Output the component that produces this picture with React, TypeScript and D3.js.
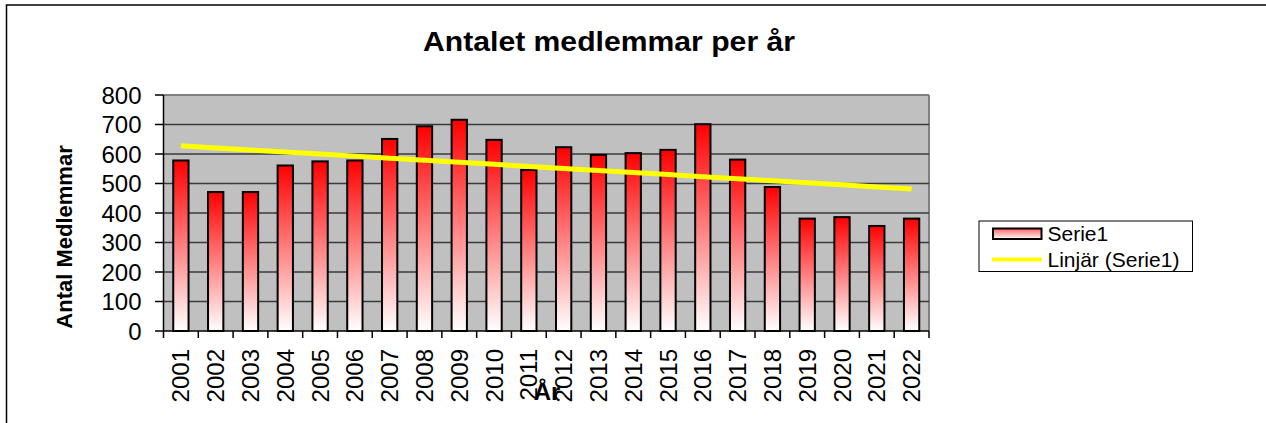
import * as d3 from "d3"

const YEARS = ["2001", "2002", "2003", "2004", "2005", "2006", "2007", "2008", "2009", "2010", "2011",
  "2012", "2013", "2014", "2015", "2016", "2017", "2018", "2019", "2020", "2021", "2022"]
const MEMBERS = [578, 471, 471, 561, 575, 578, 651, 694, 716, 648, 546, 623, 597, 603, 614, 701, 581, 488, 381, 386, 356, 381]
const Y_TICKS = [0, 100, 200, 300, 400, 500, 600, 700, 800]

const W = 1266
const H = 423
const PLOT = { left: 163.5, right: 929, top: 95, bottom: 331 }
const FONT = "'Liberation Sans', Arial, sans-serif"

export default function App() {
  const x = d3.scaleBand<string>().domain(YEARS).range([PLOT.left, PLOT.right]).paddingInner(0.56).paddingOuter(0.28)
  const band = d3.scaleBand<string>().domain(YEARS).range([PLOT.left, PLOT.right])
  const y = d3.scaleLinear().domain([0, 800]).range([PLOT.bottom, PLOT.top])

  // linear trend (least squares) over year index
  const n = MEMBERS.length
  const idx = d3.range(n)
  const mx = d3.mean(idx) ?? 0
  const my = d3.mean(MEMBERS) ?? 0
  const slope = d3.sum(idx, (i) => (i - mx) * (MEMBERS[i] - my)) / d3.sum(idx, (i) => (i - mx) ** 2)
  const trend = idx.map((i) => my + slope * (i - mx))
  const line = d3.line<number>()
    .x((_, i) => (band(YEARS[i]) ?? 0) + band.bandwidth() / 2)
    .y((d) => y(d))

  return (
    <svg width={W} height={H} style={{ position: "absolute", left: 0, top: 0 }} fontFamily={FONT}>
      <defs>
        <linearGradient id="barGrad" x1="0" y1="0" x2="0" y2="1">
          <stop offset="0" stopColor="#ff0000" />
          <stop offset="1" stopColor="#ffffff" />
        </linearGradient>
        <linearGradient id="legGrad" x1="0" y1="0" x2="0" y2="1">
          <stop offset="0" stopColor="#ff6060" />
          <stop offset="1" stopColor="#ffffff" />
        </linearGradient>
      </defs>
      <rect x={0} y={0} width={W} height={H} fill="#fff" />
      <rect x={6.5} y={5} width={W + 20} height={H + 20} fill="none" stroke="#000" strokeWidth={1.5} />

      <text x={423} y={51} fontSize={27} fontWeight="bold" textLength={372} lengthAdjust="spacingAndGlyphs">
        {"Antalet medlemmar\u00a0per år"}
      </text>

      <rect x={PLOT.left} y={PLOT.top} width={PLOT.right - PLOT.left} height={PLOT.bottom - PLOT.top} fill="#c0c0c0" />
      <line x1={PLOT.left} x2={PLOT.right} y1={PLOT.top} y2={PLOT.top} stroke="#808080" strokeWidth={2} />
      <line x1={PLOT.right} x2={PLOT.right} y1={PLOT.top} y2={PLOT.bottom} stroke="#808080" strokeWidth={2} />
      {Y_TICKS.slice(1, -1).map((t) => (
        <line key={t} x1={PLOT.left} x2={PLOT.right} y1={y(t)} y2={y(t)} stroke="#3a3a3a" strokeWidth={1.5} />
      ))}

      {YEARS.map((yr, i) => (
        <rect key={yr} x={x(yr)} y={y(MEMBERS[i])} width={x.bandwidth()} height={y(0) - y(MEMBERS[i])}
          fill="url(#barGrad)" stroke="#000" strokeWidth={2} />
      ))}

      <path d={line(trend) ?? ""} fill="none" stroke="#ffff00" strokeWidth={5} />

      {/* axes */}
      <line x1={PLOT.left} x2={PLOT.left} y1={PLOT.top} y2={PLOT.bottom} stroke="#000" strokeWidth={1.5} />
      <line x1={PLOT.left} x2={PLOT.right} y1={PLOT.bottom} y2={PLOT.bottom} stroke="#000" strokeWidth={1.5} />
      {Y_TICKS.map((t) => (
        <g key={t}>
          <line x1={155} x2={PLOT.left} y1={y(t)} y2={y(t)} stroke="#000" strokeWidth={1.5} />
          <text x={141.5} y={y(t) + 8.5} textAnchor="end" fontSize={24}>{t}</text>
        </g>
      ))}
      {[...YEARS, "end"].map((yr, i) => {
        const px = PLOT.left + i * band.bandwidth()
        return <line key={yr} x1={px} x2={px} y1={PLOT.bottom} y2={PLOT.bottom + 7} stroke="#000" strokeWidth={1.5} />
      })}
      {YEARS.map((yr) => {
        const cx = (band(yr) ?? 0) + band.bandwidth() / 2
        return (
          <text key={yr} transform={`translate(${cx + 8.5},349) rotate(-90)`} textAnchor="end" fontSize={24}>{yr}</text>
        )
      })}

      <text transform="translate(72,237) rotate(-90)" textAnchor="middle" fontSize={22} fontWeight="bold">Antal Medlemmar</text>
      <text x={547} y={400} textAnchor="middle" fontSize={24} fontWeight="bold">År</text>

      {/* legend */}
      <rect x={979} y={221} width={213.5} height={50.5} fill="#fff" stroke="#000" strokeWidth={1} />
      <rect x={993} y={228.5} width={48.5} height={10.5} fill="url(#legGrad)" stroke="#000" strokeWidth={2} />
      <text x={1047.5} y={240.5} fontSize={21}>Serie1</text>
      <line x1={992} x2={1042} y1={259.5} y2={259.5} stroke="#ffff00" strokeWidth={4} />
      <text x={1047.5} y={266.5} fontSize={21}>Linjär (Serie1)</text>
    </svg>
  )
}
